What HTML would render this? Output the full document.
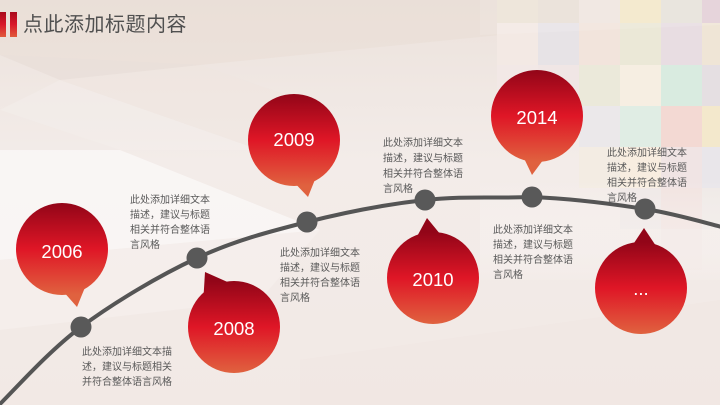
<!DOCTYPE html>
<html><head><meta charset="utf-8"><style>
html,body{margin:0;padding:0;width:720px;height:405px;overflow:hidden;background:#f2eae6;}
svg{display:block;}
.t{font-family:"Liberation Sans","Noto Sans CJK SC",sans-serif;font-size:10px;fill:#595959;}
.y{font-family:"Liberation Sans","Noto Sans CJK SC",sans-serif;font-size:18.5px;fill:#fff;text-anchor:middle;}
</style></head><body>
<svg width="720" height="405" viewBox="0 0 720 405" xmlns="http://www.w3.org/2000/svg">
<defs>
<linearGradient id="bg" x1="0" y1="0" x2="0" y2="1">
<stop offset="0" stop-color="#ece2dc"/><stop offset="0.4" stop-color="#f3ece9"/><stop offset="1" stop-color="#f2e9e5"/>
</linearGradient>
<linearGradient id="bar" x1="0" y1="0" x2="0" y2="1">
<stop offset="0" stop-color="#a80a1c"/><stop offset="0.5" stop-color="#d9182a"/><stop offset="1" stop-color="#e05a3c"/>
</linearGradient>
<linearGradient id="g1" gradientUnits="userSpaceOnUse" x1="0" y1="203" x2="0" y2="295"><stop offset="0" stop-color="#920518"/><stop offset="0.5" stop-color="#df1626"/><stop offset="1" stop-color="#e0623f"/></linearGradient>
<linearGradient id="g2" gradientUnits="userSpaceOnUse" x1="0" y1="281" x2="0" y2="373"><stop offset="0" stop-color="#920518"/><stop offset="0.5" stop-color="#df1626"/><stop offset="1" stop-color="#e0623f"/></linearGradient>
<linearGradient id="g3" gradientUnits="userSpaceOnUse" x1="0" y1="94" x2="0" y2="186"><stop offset="0" stop-color="#920518"/><stop offset="0.5" stop-color="#df1626"/><stop offset="1" stop-color="#e0623f"/></linearGradient>
<linearGradient id="g4" gradientUnits="userSpaceOnUse" x1="0" y1="232" x2="0" y2="324"><stop offset="0" stop-color="#920518"/><stop offset="0.5" stop-color="#df1626"/><stop offset="1" stop-color="#e0623f"/></linearGradient>
<linearGradient id="g5" gradientUnits="userSpaceOnUse" x1="0" y1="70" x2="0" y2="162"><stop offset="0" stop-color="#920518"/><stop offset="0.5" stop-color="#df1626"/><stop offset="1" stop-color="#e0623f"/></linearGradient>
<linearGradient id="g6" gradientUnits="userSpaceOnUse" x1="0" y1="242" x2="0" y2="334"><stop offset="0" stop-color="#920518"/><stop offset="0.5" stop-color="#df1626"/><stop offset="1" stop-color="#e0623f"/></linearGradient>
<linearGradient id="fade" x1="0" y1="0" x2="0" y2="1"><stop offset="0" stop-color="#fff" stop-opacity="0"/><stop offset="1" stop-color="#f3ece9" stop-opacity="1"/></linearGradient>
</defs>
<rect width="720" height="405" fill="url(#bg)"/>
<!-- background polygons -->
<polygon points="0,0 720,0 720,30 500,35 200,65 0,55" fill="#e9ddd6" opacity="0.6"/>
<polygon points="0,55 200,65 60,80" fill="#e6dad3" opacity="0.5"/>
<polygon points="0,150 120,150 320,230 0,260" fill="#ffffff" opacity="0.5"/>
<polygon points="0,110 60,80 260,150 120,150" fill="#f6f0ed" opacity="0.4"/>
<polygon points="60,80 200,65 330,110 260,150" fill="#efe5e0" opacity="0.5"/>
<polygon points="0,260 320,230 260,300 0,330" fill="#f7f2f0" opacity="0.5"/>
<polygon points="300,360 720,300 720,405 300,405" fill="#efe6e1" opacity="0.5"/>
<!-- mosaic -->
<g opacity="1">
<rect x="497" y="0" width="41" height="23" fill="#ece3d6"/>
<rect x="538" y="0" width="41" height="23" fill="#e9e0d7"/>
<rect x="579" y="0" width="41" height="23" fill="#efe5e0"/>
<rect x="620" y="0" width="41" height="23" fill="#f3e8c9"/>
<rect x="661" y="0" width="41" height="23" fill="#e6e2da"/>
<rect x="702" y="0" width="18" height="23" fill="#e3cfd6"/>
<rect x="497" y="23" width="41" height="42" fill="#f3e9e4"/>
<rect x="538" y="23" width="41" height="42" fill="#e7e3e6"/>
<rect x="579" y="23" width="41" height="42" fill="#f2e4dc"/>
<rect x="620" y="23" width="41" height="42" fill="#ebe8d7"/>
<rect x="661" y="23" width="41" height="42" fill="#e8dde2"/>
<rect x="702" y="23" width="18" height="42" fill="#efe5d6"/>
<rect x="497" y="65" width="41" height="41" fill="#f2e8e6"/>
<rect x="538" y="65" width="41" height="41" fill="#f0e6e5"/>
<rect x="579" y="65" width="41" height="41" fill="#ebe9da"/>
<rect x="620" y="65" width="41" height="41" fill="#f6eee2"/>
<rect x="661" y="65" width="41" height="41" fill="#d9ebe0"/>
<rect x="702" y="65" width="18" height="41" fill="#e5dfe2"/>
<rect x="579" y="106" width="41" height="41" fill="#ebe8ea"/>
<rect x="620" y="106" width="41" height="41" fill="#e0ede4"/>
<rect x="661" y="106" width="41" height="41" fill="#f3d9d3"/>
<rect x="702" y="106" width="18" height="41" fill="#f3e8cc"/>
<rect x="579" y="147" width="41" height="41" fill="#f3ece3"/>
<rect x="620" y="147" width="41" height="41" fill="#f8ede0"/>
<rect x="661" y="147" width="41" height="41" fill="#f0e4e4"/>
<rect x="702" y="147" width="18" height="41" fill="#e9e6ea"/>
<rect x="620" y="188" width="41" height="41" fill="#efe8e6"/>
<rect x="661" y="188" width="41" height="41" fill="#f1e3e0"/>
<rect x="702" y="188" width="18" height="41" fill="#efe9e6"/>
<rect x="661" y="229" width="41" height="41" fill="#f2e7e4"/>
</g>
<polygon points="480,35 720,25 720,0 480,0" fill="#fff" opacity="0.12"/>
<rect x="480" y="180" width="240" height="100" fill="url(#fade)" opacity="0.7"/>
<!-- title -->
<rect x="0" y="12" width="6" height="25" fill="url(#bar)"/>
<rect x="10" y="12" width="7" height="25" fill="url(#bar)"/>
<text x="23" y="31" font-family="'Liberation Sans','Noto Sans CJK SC',sans-serif" font-size="20" fill="#505050" letter-spacing="0.5">点此添加标题内容</text>
<!-- curve -->
<path d="M-2,406 C11.8,392.8 47.8,351.7 81,327 C114.2,302.3 159.3,275.5 197,258 C234.7,240.5 269,231.7 307,222 C345,212.3 387.5,204.2 425,200 C462.5,195.8 495.3,198.5 532,197 C568.7,198.5 613.3,204 645,209 C676.7,214 709.2,224 722,227" fill="none" stroke="#555" stroke-width="4"/>
<g fill="#595959">
<circle cx="81" cy="327" r="10.5"/>
<circle cx="197" cy="258" r="10.5"/>
<circle cx="307" cy="222" r="10.5"/>
<circle cx="425" cy="200" r="10.5"/>
<circle cx="532" cy="197" r="10.5"/>
<circle cx="645" cy="209" r="10.5"/>
</g>
<!-- bubbles -->
<g fill="url(#g1)"><circle cx="62" cy="249" r="46"/><polygon points="62,290 88,280 77,307"/></g>
<g fill="url(#g2)"><circle cx="234" cy="327" r="46"/><polygon points="205,272 203,305 232,284"/></g>
<g fill="url(#g3)"><circle cx="294" cy="140" r="46"/><polygon points="308,197 290,178 318,172"/></g>
<g fill="url(#g4)"><circle cx="433" cy="278" r="46"/><polygon points="427,218 414,242 445,240"/></g>
<g fill="url(#g5)"><circle cx="537" cy="116" r="46"/><polygon points="532,175 521,152 549,152"/></g>
<g fill="url(#g6)"><circle cx="641" cy="288" r="46"/><polygon points="644,228 628,252 660,252"/></g>
<text class="y" x="62" y="258">2006</text>
<text class="y" x="234" y="335">2008</text>
<text class="y" x="294" y="146">2009</text>
<text class="y" x="433" y="286">2010</text>
<text class="y" x="537" y="124">2014</text>
<text class="y" x="641" y="295">...</text>
<!-- descriptions -->
<text class="t"><tspan x="82" y="355">此处添加详细文本描</tspan><tspan x="82" y="370">述，建议与标题相关</tspan><tspan x="82" y="385">并符合整体语言风格</tspan></text>
<text class="t"><tspan x="130" y="203">此处添加详细文本</tspan><tspan x="130" y="218">描述，建议与标题</tspan><tspan x="130" y="233">相关并符合整体语</tspan><tspan x="130" y="248">言风格</tspan></text>
<text class="t"><tspan x="280" y="256">此处添加详细文本</tspan><tspan x="280" y="271">描述，建议与标题</tspan><tspan x="280" y="286">相关并符合整体语</tspan><tspan x="280" y="301">言风格</tspan></text>
<text class="t"><tspan x="383" y="146">此处添加详细文本</tspan><tspan x="383" y="161.5">描述，建议与标题</tspan><tspan x="383" y="177">相关并符合整体语</tspan><tspan x="383" y="192">言风格</tspan></text>
<text class="t"><tspan x="493" y="233">此处添加详细文本</tspan><tspan x="493" y="248">描述，建议与标题</tspan><tspan x="493" y="263">相关并符合整体语</tspan><tspan x="493" y="278">言风格</tspan></text>
<text class="t"><tspan x="607" y="156">此处添加详细文本</tspan><tspan x="607" y="171">描述，建议与标题</tspan><tspan x="607" y="186">相关并符合整体语</tspan><tspan x="607" y="201">言风格</tspan></text>
</svg>
</body></html>
